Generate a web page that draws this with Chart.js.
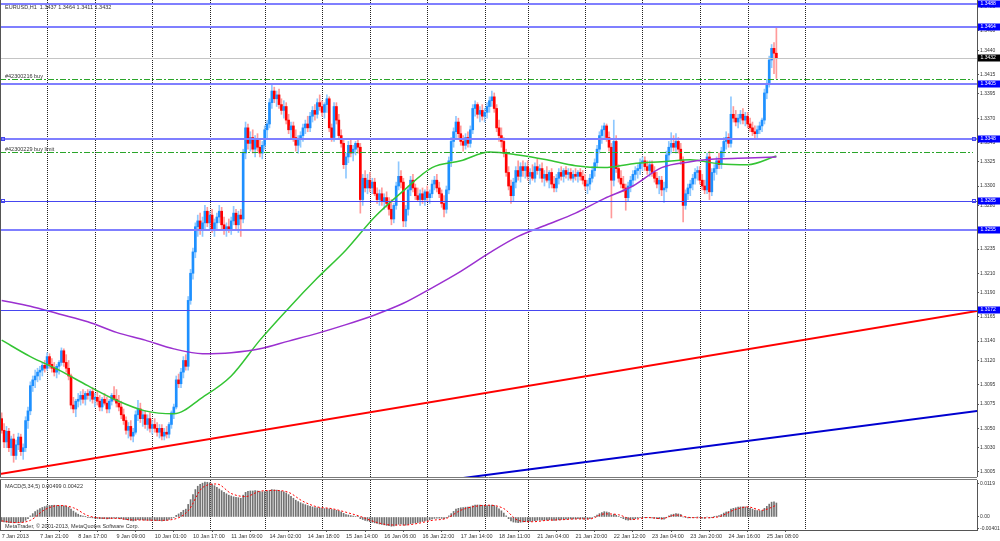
<!DOCTYPE html>
<html>
<head>
<meta charset="utf-8">
<title>EURUSD,H1</title>
<script src="https://cdn.jsdelivr.net/npm/chart.js@4.4.1/dist/chart.umd.min.js"></script>
<style>
  html, body { margin: 0; padding: 0; background: #fff; }
  #wrap { position: relative; width: 1000px; height: 541px; overflow: hidden; background: #fff; }
  canvas { position: absolute; left: 0; }
  #main { top: 0; }
  #macd { top: 477px; }
</style>
</head>
<body>
<div id="wrap">
  <canvas id="main" width="1000" height="477"></canvas>
  <canvas id="macd" width="1000" height="64"></canvas>
</div>
<script>
// EURUSD H1, bar 0 = 7 Jan 2013 05:00, last bar = 25 Jan 12:00
const symbol = 'EURUSD,H1';

const opens = [
  1.3060,1.3048,1.3036,1.3047,1.3030,1.3039,1.3022,1.3033,1.3041,1.3026,
  1.3030,1.3058,1.3068,1.3094,1.3100,1.3104,1.3108,1.3110,1.3115,1.3112,
  1.3124,1.3116,1.3112,1.3108,1.3114,1.3118,1.3130,1.3118,1.3112,1.3104,
  1.3074,1.3070,1.3078,1.3080,1.3084,1.3080,1.3086,1.3084,1.3088,1.3080,
  1.3082,1.3078,1.3072,1.3080,1.3076,1.3070,1.3078,1.3084,1.3080,1.3076,
  1.3072,1.3064,1.3058,1.3048,1.3052,1.3042,1.3046,1.3064,1.3070,1.3060,
  1.3064,1.3054,1.3060,1.3050,1.3054,1.3050,1.3046,1.3050,1.3042,1.3046,
  1.3044,1.3054,1.3066,1.3072,1.3100,1.3096,1.3108,1.3120,1.3114,1.3182,
  1.3210,1.3232,1.3258,1.3264,1.3254,1.3262,1.3274,1.3262,1.3270,1.3256,
  1.3262,1.3268,1.3274,1.3260,1.3254,1.3258,1.3256,1.3264,1.3272,1.3260,
  1.3270,1.3266,1.3334,1.3360,1.3344,1.3350,1.3338,1.3348,1.3340,1.3334,
  1.3342,1.3358,1.3364,1.3386,1.3398,1.3390,1.3394,1.3384,1.3378,1.3382,
  1.3368,1.3358,1.3362,1.3350,1.3342,1.3348,1.3352,1.3360,1.3364,1.3360,
  1.3372,1.3378,1.3374,1.3386,1.3382,1.3376,1.3384,1.3390,1.3360,1.3350,
  1.3382,1.3368,1.3352,1.3344,1.3322,1.3330,1.3342,1.3334,1.3338,1.3344,
  1.3340,1.3286,1.3308,1.3298,1.3306,1.3298,1.3304,1.3292,1.3286,1.3292,
  1.3284,1.3288,1.3282,1.3276,1.3266,1.3280,1.3300,1.3310,1.3304,1.3264,
  1.3276,1.3296,1.3306,1.3298,1.3290,1.3286,1.3292,1.3286,1.3294,1.3288,
  1.3292,1.3302,1.3306,1.3298,1.3292,1.3282,1.3276,1.3296,1.3326,1.3346,
  1.3356,1.3366,1.3354,1.3346,1.3342,1.3350,1.3344,1.3358,1.3380,1.3384,
  1.3374,1.3378,1.3372,1.3376,1.3382,1.3388,1.3392,1.3380,1.3360,1.3352,
  1.3346,1.3334,1.3314,1.3300,1.3290,1.3304,1.3316,1.3310,1.3320,1.3316,
  1.3320,1.3310,1.3314,1.3308,1.3320,1.3316,1.3318,1.3308,1.3312,1.3306,
  1.3314,1.3302,1.3298,1.3308,1.3314,1.3310,1.3316,1.3312,1.3314,1.3308,
  1.3312,1.3310,1.3314,1.3310,1.3306,1.3300,1.3302,1.3308,1.3316,1.3324,
  1.3338,1.3352,1.3358,1.3362,1.3350,1.3340,1.3306,1.3346,1.3318,1.3308,
  1.3302,1.3298,1.3288,1.3300,1.3306,1.3312,1.3316,1.3318,1.3324,1.3326,
  1.3320,1.3316,1.3322,1.3314,1.3308,1.3302,1.3306,1.3296,1.3298,1.3332,
  1.3340,1.3344,1.3340,1.3346,1.3338,1.3326,1.3280,1.3292,1.3298,1.3302,
  1.3308,1.3314,1.3316,1.3306,1.3300,1.3296,1.3330,1.3294,1.3314,1.3318,
  1.3326,1.3322,1.3336,1.3346,1.3350,1.3344,1.3374,1.3370,1.3366,1.3370,
  1.3374,1.3368,1.3372,1.3364,1.3360,1.3356,1.3354,1.3358,1.3362,1.3368,
  1.3396,1.3406,1.3430,1.3442,1.3437
];
const highs = [
  1.3066,1.3055,1.3052,1.3050,1.3042,1.3044,1.3038,1.3045,1.3044,1.3034,
  1.3062,1.3072,1.3098,1.3104,1.3110,1.3112,1.3114,1.3118,1.3120,1.3128,
  1.3127,1.3122,1.3118,1.3116,1.3120,1.3133,1.3132,1.3126,1.3120,1.3106,
  1.3082,1.3080,1.3086,1.3088,1.3090,1.3088,1.3090,1.3090,1.3092,1.3086,
  1.3088,1.3084,1.3082,1.3086,1.3082,1.3080,1.3086,1.3093,1.3090,1.3084,
  1.3078,1.3070,1.3062,1.3056,1.3058,1.3050,1.3068,1.3079,1.3076,1.3068,
  1.3068,1.3064,1.3066,1.3058,1.3060,1.3056,1.3054,1.3054,1.3050,1.3052,
  1.3056,1.3068,1.3075,1.3104,1.3106,1.3112,1.3124,1.3126,1.3186,1.3214,
  1.3236,1.3262,1.3270,1.3272,1.3268,1.3280,1.3278,1.3274,1.3276,1.3266,
  1.3272,1.3280,1.3278,1.3268,1.3262,1.3266,1.3268,1.3279,1.3276,1.3274,
  1.3276,1.3338,1.3366,1.3364,1.3356,1.3358,1.3352,1.3354,1.3348,1.3346,
  1.3362,1.3368,1.3390,1.3404,1.3402,1.3398,1.3400,1.3390,1.3388,1.3386,
  1.3374,1.3366,1.3366,1.3358,1.3352,1.3356,1.3364,1.3368,1.3372,1.3376,
  1.3382,1.3384,1.3390,1.3394,1.3388,1.3386,1.3394,1.3392,1.3364,1.3386,
  1.3386,1.3374,1.3358,1.3348,1.3334,1.3346,1.3348,1.3342,1.3346,1.3348,
  1.3344,1.3312,1.3316,1.3312,1.3314,1.3308,1.3308,1.3298,1.3296,1.3298,
  1.3292,1.3294,1.3288,1.3286,1.3282,1.3304,1.3325,1.3316,1.3308,1.3280,
  1.3300,1.3310,1.3312,1.3302,1.3298,1.3296,1.3298,1.3296,1.3300,1.3296,
  1.3306,1.3310,1.3312,1.3304,1.3296,1.3290,1.3300,1.3330,1.3350,1.3360,
  1.3372,1.3370,1.3362,1.3352,1.3354,1.3356,1.3362,1.3384,1.3388,1.3386,
  1.3382,1.3384,1.3380,1.3386,1.3392,1.3398,1.3396,1.3384,1.3368,1.3360,
  1.3350,1.3338,1.3320,1.3306,1.3308,1.3320,1.3326,1.3324,1.3326,1.3324,
  1.3326,1.3318,1.3322,1.3324,1.3328,1.3322,1.3324,1.3316,1.3320,1.3316,
  1.3318,1.3310,1.3312,1.3318,1.3320,1.3318,1.3320,1.3318,1.3318,1.3316,
  1.3318,1.3316,1.3318,1.3316,1.3312,1.3306,1.3312,1.3320,1.3328,1.3342,
  1.3356,1.3362,1.3365,1.3364,1.3356,1.3344,1.3368,1.3352,1.3322,1.3316,
  1.3310,1.3302,1.3304,1.3310,1.3316,1.3320,1.3322,1.3328,1.3330,1.3330,
  1.3326,1.3326,1.3326,1.3320,1.3314,1.3310,1.3310,1.3304,1.3336,1.3346,
  1.3355,1.3352,1.3354,1.3350,1.3344,1.3330,1.3296,1.3302,1.3306,1.3312,
  1.3318,1.3320,1.3320,1.3312,1.3306,1.3334,1.3336,1.3318,1.3322,1.3330,
  1.3334,1.3340,1.3350,1.3356,1.3354,1.3392,1.3382,1.3378,1.3374,1.3378,
  1.3380,1.3376,1.3376,1.3370,1.3366,1.3362,1.3362,1.3366,1.3370,1.3400,
  1.3410,1.3434,1.3446,1.3448,1.3464
];
const lows = [
  1.3045,1.3030,1.3030,1.3026,1.3022,1.3015,1.3018,1.3028,1.3022,1.3018,
  1.3026,1.3050,1.3064,1.3088,1.3092,1.3098,1.3100,1.3104,1.3108,1.3110,
  1.3112,1.3108,1.3104,1.3102,1.3106,1.3115,1.3114,1.3108,1.3100,1.3070,
  1.3066,1.3062,1.3072,1.3074,1.3076,1.3074,1.3080,1.3078,1.3076,1.3072,
  1.3074,1.3068,1.3068,1.3074,1.3066,1.3066,1.3074,1.3078,1.3072,1.3068,
  1.3060,1.3054,1.3044,1.3040,1.3038,1.3036,1.3044,1.3058,1.3056,1.3052,
  1.3050,1.3048,1.3046,1.3044,1.3046,1.3042,1.3040,1.3038,1.3038,1.3040,
  1.3040,1.3050,1.3060,1.3070,1.3092,1.3092,1.3102,1.3110,1.3110,1.3178,
  1.3204,1.3226,1.3248,1.3250,1.3248,1.3256,1.3258,1.3256,1.3252,1.3248,
  1.3256,1.3262,1.3256,1.3250,1.3248,1.3252,1.3250,1.3260,1.3256,1.3252,
  1.3248,1.3262,1.3328,1.3338,1.3336,1.3334,1.3330,1.3336,1.3330,1.3328,
  1.3338,1.3350,1.3360,1.3380,1.3386,1.3382,1.3380,1.3374,1.3370,1.3364,
  1.3354,1.3350,1.3346,1.3336,1.3334,1.3340,1.3346,1.3354,1.3356,1.3356,
  1.3366,1.3368,1.3370,1.3378,1.3372,1.3370,1.3376,1.3356,1.3346,1.3346,
  1.3364,1.3350,1.3340,1.3318,1.3308,1.3324,1.3330,1.3326,1.3332,1.3334,
  1.3272,1.3280,1.3294,1.3292,1.3294,1.3292,1.3290,1.3282,1.3280,1.3280,
  1.3276,1.3278,1.3270,1.3260,1.3262,1.3276,1.3296,1.3298,1.3258,1.3258,
  1.3270,1.3290,1.3294,1.3286,1.3284,1.3280,1.3282,1.3280,1.3284,1.3282,
  1.3288,1.3296,1.3294,1.3288,1.3278,1.3268,1.3272,1.3292,1.3320,1.3340,
  1.3350,1.3350,1.3342,1.3336,1.3338,1.3340,1.3340,1.3354,1.3372,1.3370,
  1.3366,1.3368,1.3366,1.3370,1.3376,1.3382,1.3376,1.3356,1.3346,1.3340,
  1.3330,1.3310,1.3296,1.3282,1.3284,1.3298,1.3306,1.3304,1.3310,1.3308,
  1.3306,1.3302,1.3306,1.3304,1.3312,1.3308,1.3304,1.3300,1.3304,1.3298,
  1.3298,1.3294,1.3294,1.3302,1.3306,1.3304,1.3308,1.3306,1.3306,1.3304,
  1.3306,1.3304,1.3306,1.3302,1.3296,1.3292,1.3296,1.3304,1.3310,1.3320,
  1.3334,1.3344,1.3348,1.3346,1.3336,1.3267,1.3300,1.3314,1.3304,1.3298,
  1.3294,1.3275,1.3284,1.3294,1.3300,1.3306,1.3308,1.3312,1.3316,1.3316,
  1.3312,1.3310,1.3310,1.3304,1.3298,1.3292,1.3290,1.3283,1.3294,1.3326,
  1.3334,1.3336,1.3334,1.3334,1.3322,1.3263,1.3276,1.3286,1.3290,1.3296,
  1.3302,1.3306,1.3302,1.3296,1.3292,1.3292,1.3286,1.3290,1.3306,1.3312,
  1.3318,1.3318,1.3330,1.3338,1.3340,1.3340,1.3366,1.3362,1.3360,1.3364,
  1.3364,1.3362,1.3360,1.3356,1.3352,1.3350,1.3350,1.3354,1.3356,1.3364,
  1.3390,1.3402,1.3422,1.3416,1.3411
];
const closes = [
  1.3048,1.3036,1.3047,1.3030,1.3039,1.3022,1.3033,1.3041,1.3026,1.3030,
  1.3058,1.3068,1.3094,1.3100,1.3104,1.3108,1.3110,1.3115,1.3112,1.3124,
  1.3116,1.3112,1.3108,1.3114,1.3118,1.3130,1.3118,1.3112,1.3104,1.3074,
  1.3070,1.3078,1.3080,1.3084,1.3080,1.3086,1.3084,1.3088,1.3080,1.3082,
  1.3078,1.3072,1.3080,1.3076,1.3070,1.3078,1.3084,1.3080,1.3076,1.3072,
  1.3064,1.3058,1.3048,1.3052,1.3042,1.3046,1.3064,1.3070,1.3060,1.3064,
  1.3054,1.3060,1.3050,1.3054,1.3050,1.3046,1.3050,1.3042,1.3046,1.3044,
  1.3054,1.3066,1.3072,1.3100,1.3096,1.3108,1.3120,1.3114,1.3182,1.3210,
  1.3232,1.3258,1.3264,1.3254,1.3262,1.3274,1.3262,1.3270,1.3256,1.3262,
  1.3268,1.3274,1.3260,1.3254,1.3258,1.3256,1.3264,1.3272,1.3260,1.3270,
  1.3266,1.3334,1.3360,1.3344,1.3350,1.3338,1.3348,1.3340,1.3334,1.3342,
  1.3358,1.3364,1.3386,1.3398,1.3390,1.3394,1.3384,1.3378,1.3382,1.3368,
  1.3358,1.3362,1.3350,1.3342,1.3348,1.3352,1.3360,1.3364,1.3360,1.3372,
  1.3378,1.3374,1.3386,1.3382,1.3376,1.3384,1.3390,1.3360,1.3350,1.3382,
  1.3368,1.3352,1.3344,1.3322,1.3330,1.3342,1.3334,1.3338,1.3344,1.3340,
  1.3286,1.3308,1.3298,1.3306,1.3298,1.3304,1.3292,1.3286,1.3292,1.3284,
  1.3288,1.3282,1.3276,1.3266,1.3280,1.3300,1.3310,1.3304,1.3264,1.3276,
  1.3296,1.3306,1.3298,1.3290,1.3286,1.3292,1.3286,1.3294,1.3288,1.3292,
  1.3302,1.3306,1.3298,1.3292,1.3282,1.3276,1.3296,1.3326,1.3346,1.3356,
  1.3366,1.3354,1.3346,1.3342,1.3350,1.3344,1.3358,1.3380,1.3384,1.3374,
  1.3378,1.3372,1.3376,1.3382,1.3388,1.3392,1.3380,1.3360,1.3352,1.3346,
  1.3334,1.3314,1.3300,1.3290,1.3304,1.3316,1.3310,1.3320,1.3316,1.3320,
  1.3310,1.3314,1.3308,1.3320,1.3316,1.3318,1.3308,1.3312,1.3306,1.3314,
  1.3302,1.3298,1.3308,1.3314,1.3310,1.3316,1.3312,1.3314,1.3308,1.3312,
  1.3310,1.3314,1.3310,1.3306,1.3300,1.3302,1.3308,1.3316,1.3324,1.3338,
  1.3352,1.3358,1.3362,1.3350,1.3340,1.3306,1.3346,1.3318,1.3308,1.3302,
  1.3298,1.3288,1.3300,1.3306,1.3312,1.3316,1.3318,1.3324,1.3326,1.3320,
  1.3316,1.3322,1.3314,1.3308,1.3302,1.3306,1.3296,1.3298,1.3332,1.3340,
  1.3344,1.3340,1.3346,1.3338,1.3326,1.3280,1.3292,1.3298,1.3302,1.3308,
  1.3314,1.3316,1.3306,1.3300,1.3296,1.3330,1.3294,1.3314,1.3318,1.3326,
  1.3322,1.3336,1.3346,1.3350,1.3344,1.3374,1.3370,1.3366,1.3370,1.3374,
  1.3368,1.3372,1.3364,1.3360,1.3356,1.3354,1.3358,1.3362,1.3368,1.3396,
  1.3406,1.3430,1.3442,1.3437,1.3432
];

// moving averages, read every 12 bars
const maBars = [0,12,24,36,48,60,72,84,96,108,120,132,144,156,168,180,192,204,216,228,240,252,264,276,288,300,312,324];
const greenMA = [1.3141,1.3124,1.3110,1.3094,1.3079,1.3068,1.3065,1.3082,1.3104,1.3141,1.3174,1.3205,1.3234,1.3268,
                 1.3295,1.3319,1.3326,1.3335,1.3332,1.3327,1.3321,1.3319,1.3323,1.3325,1.3327,1.3323,1.3322,1.3331];
const purpleMA = [1.3182,1.3176,1.3168,1.3160,1.3149,1.3141,1.3132,1.3127,1.3128,1.3132,1.3140,1.3148,1.3157,1.3167,
                  1.3179,1.3195,1.3212,1.3231,1.3248,1.3260,1.3272,1.3287,1.3300,1.3319,1.3325,1.3328,1.3329,1.3330];

// trend lines (bar, price)
const redTrendBars = [-1, 408];
const redTrendPrices = [1.30028, 1.31710];
const blueTrendBars = [190, 408];
const blueTrendPrices = [1.29978, 1.30679];

// horizontal objects
const levelPrices = [1.3488, 1.3464, 1.3405, 1.3348, 1.3285, 1.3255, 1.3172];
const bidPrice = 1.3432;
const orderPrices = [1.3410, 1.3335];
const orderLabels = ['#42300216 buy', '#42300229 buy limit'];

// MACD(5,34,5)
const macdHist = [
  -0.0016,-0.0018,-0.0019,-0.0020,-0.0020,-0.0021,-0.0020,-0.0019,-0.0019,-0.0018,
  -0.0012,-0.0006,0.0004,0.0012,0.0019,0.0025,0.0030,0.0034,0.0037,0.0040,
  0.0041,0.0042,0.0042,0.0041,0.0040,0.0041,0.0040,0.0038,0.0035,0.0028,
  0.0021,0.0015,0.0010,0.0006,0.0003,0.0001,-0.0001,-0.0002,-0.0003,-0.0004,
  -0.0005,-0.0006,-0.0006,-0.0006,-0.0007,-0.0006,-0.0005,-0.0004,-0.0004,-0.0005,
  -0.0006,-0.0008,-0.0010,-0.0011,-0.0013,-0.0014,-0.0012,-0.0010,-0.0010,-0.0010,
  -0.0011,-0.0011,-0.0012,-0.0012,-0.0012,-0.0013,-0.0013,-0.0014,-0.0013,-0.0012,
  -0.0009,-0.0005,-0.0001,0.0006,0.0011,0.0017,0.0024,0.0028,0.0045,0.0062,
  0.0080,0.0098,0.0110,0.0117,0.0121,0.0125,0.0124,0.0122,0.0118,0.0112,
  0.0106,0.0100,0.0094,0.0088,0.0083,0.0078,0.0075,0.0072,0.0070,0.0069,
  0.0067,0.0078,0.0088,0.0092,0.0093,0.0093,0.0094,0.0093,0.0091,0.0090,
  0.0091,0.0092,0.0095,0.0098,0.0097,0.0096,0.0094,0.0092,0.0090,0.0086,
  0.0080,0.0074,0.0067,0.0060,0.0055,0.0051,0.0047,0.0044,0.0041,0.0038,
  0.0036,0.0034,0.0033,0.0032,0.0031,0.0030,0.0030,0.0029,0.0027,0.0026,
  0.0024,0.0021,0.0018,0.0013,0.0009,0.0007,0.0005,0.0003,0.0002,0.0001,
  -0.0006,-0.0009,-0.0012,-0.0014,-0.0017,-0.0019,-0.0021,-0.0023,-0.0025,-0.0027,
  -0.0028,-0.0030,-0.0031,-0.0033,-0.0032,-0.0029,-0.0026,-0.0025,-0.0029,-0.0029,
  -0.0027,-0.0024,-0.0022,-0.0021,-0.0020,-0.0018,-0.0016,-0.0014,-0.0012,-0.0010,
  -0.0007,-0.0005,-0.0004,-0.0004,-0.0005,-0.0006,-0.0003,0.0004,0.0012,0.0020,
  0.0028,0.0031,0.0033,0.0034,0.0035,0.0035,0.0036,0.0040,0.0043,0.0043,
  0.0043,0.0042,0.0041,0.0041,0.0042,0.0043,0.0041,0.0036,0.0029,0.0022,
  0.0014,0.0004,-0.0006,-0.0014,-0.0018,-0.0019,-0.0020,-0.0019,-0.0018,-0.0017,
  -0.0017,-0.0016,-0.0015,-0.0013,-0.0012,-0.0011,-0.0011,-0.0011,-0.0011,-0.0010,
  -0.0011,-0.0012,-0.0011,-0.0010,-0.0009,-0.0008,-0.0008,-0.0007,-0.0007,-0.0007,
  -0.0007,-0.0006,-0.0006,-0.0007,-0.0008,-0.0008,-0.0006,-0.0002,0.0002,0.0007,
  0.0012,0.0016,0.0019,0.0018,0.0016,0.0006,0.0010,0.0006,0.0002,-0.0002,
  -0.0006,-0.0010,-0.0011,-0.0010,-0.0008,-0.0006,-0.0004,-0.0002,-0.0001,-0.0001,
  -0.0002,-0.0002,-0.0003,-0.0004,-0.0006,-0.0006,-0.0008,-0.0008,-0.0001,0.0004,
  0.0008,0.0010,0.0012,0.0011,0.0009,0.0000,-0.0002,-0.0003,-0.0003,-0.0002,
  -0.0001,0.0000,-0.0002,-0.0004,-0.0005,0.0000,-0.0003,-0.0001,0.0001,0.0003,
  0.0005,0.0009,0.0014,0.0018,0.0020,0.0028,0.0031,0.0033,0.0035,0.0036,
  0.0036,0.0036,0.0034,0.0031,0.0028,0.0025,0.0023,0.0022,0.0023,0.0031,
  0.0038,0.0046,0.0053,0.0054,0.0050
];
const signalBars = [0,6,12,18,24,30,36,42,48,54,60,66,72,78,84,90,96,102,108,114,120,126,132,138,144,150,156,162,
                    168,174,180,186,192,198,204,210,216,222,228,234,240,246,252,258,264,270,276,282,288,294,300,306,312,318,324];
const macdSignal = [-0.0014,-0.0020,-0.0012,0.0026,0.0041,0.0033,0.0005,-0.0004,-0.0005,-0.0010,
                    -0.0011,-0.0012,-0.0008,0.0022,0.0105,0.0118,0.0084,0.0073,0.0092,0.0095,
                    0.0088,0.0056,0.0036,0.0030,0.0017,0.0002,-0.0017,-0.0028,-0.0029,-0.0023,
                    -0.0012,-0.0005,0.0024,0.0038,0.0042,0.0030,-0.0012,-0.0017,-0.0012,-0.0010,
                    -0.0007,-0.0007,0.0011,0.0008,-0.0009,-0.0002,-0.0006,0.0007,-0.0002,-0.0003,
                    0.0001,0.0024,0.0036,0.0024,0.0042];
const macdNow = [0.00499, 0.00422];

// axes
const priceTicks = [1.3485,1.3460,1.3440,1.3415,1.3395,1.3370,1.3345,1.3325,1.3300,1.3280,1.3255,
                    1.3235,1.3210,1.3190,1.3165,1.3140,1.3120,1.3095,1.3075,1.3050,1.3030,1.3005];
const macdTicks = [0.0119, 0, -0.00401];
const macdTickLabels = ['0.0119', '0.00', '-0.00401'];
const labelBars = [0,16,32,48,64,80,96,112,128,144,160,176,192,208,224,240,256,272,288,304,320];
const xLabels = ['7 Jan 2013','7 Jan 21:00','8 Jan 17:00','9 Jan 09:00','10 Jan 01:00','10 Jan 17:00',
                 '11 Jan 09:00','14 Jan 02:00','14 Jan 18:00','15 Jan 14:00','16 Jan 06:00','16 Jan 22:00',
                 '17 Jan 14:00','18 Jan 11:00','21 Jan 04:00','21 Jan 20:00','22 Jan 12:00','23 Jan 04:00',
                 '23 Jan 20:00','24 Jan 16:00','25 Jan 08:00'];
const dayBars = [19,39,63,87,110,134,154,178,202,220,244,268,292,312,336];

// ---- styling ----
const FONT = 'Liberation Sans';
const BULL = '#1e90ff', BULL_WICK = '#8ec8ff', BEAR = '#ff0000', BEAR_WICK = '#ff9a9a';
const X_MIN = -0.7, X_MAX = 407.9;
const Y_MIN = 1.29998, Y_MAX = 1.34919;
const M_MIN = -0.00465, M_MAX = 0.01322;
const AXIS = '#555';
const TXT = '#333';
const thinLevels = [1.3285, 1.3172];
const anchoredLevels = [1.3348, 1.3285];

Chart.defaults.font.family = FONT;
Chart.defaults.color = TXT;
Chart.defaults.animation = false;

function dayLines(chart) {
  const { ctx, chartArea: a, scales: { x } } = chart;
  ctx.save();
  ctx.strokeStyle = '#222';
  ctx.lineWidth = 1;
  ctx.setLineDash([1, 1]);
  dayBars.forEach(b => {
    const px = Math.round(x.getPixelForValue(b)) + 0.5;
    ctx.beginPath();
    ctx.moveTo(px, a.top);
    ctx.lineTo(px, a.bottom);
    ctx.stroke();
  });
  ctx.restore();
}

function leftBorder(chart) {
  const { ctx, chartArea: a } = chart;
  ctx.save();
  ctx.strokeStyle = AXIS;
  ctx.lineWidth = 1;
  ctx.beginPath();
  ctx.moveTo(0.5, a.top);
  ctx.lineTo(0.5, a.bottom);
  ctx.stroke();
  ctx.restore();
}

function tag(ctx, left, py, text, bg) {
  ctx.fillStyle = bg;
  ctx.fillRect(left + 1, Math.round(py) - 3.5, 22, 7);
  ctx.fillStyle = '#fff';
  ctx.font = '5px ' + FONT;
  ctx.textBaseline = 'middle';
  ctx.textAlign = 'left';
  ctx.fillText(text, left + 3.5, Math.round(py));
}

const mainOverlay = {
  id: 'mainOverlay',
  beforeDatasetsDraw(chart) {
    dayLines(chart);
  },
  afterDatasetsDraw(chart) {
    const { ctx, chartArea: a, scales: { y } } = chart;
    ctx.save();
    // bid line
    let py = Math.round(y.getPixelForValue(bidPrice)) + 0.5;
    ctx.strokeStyle = '#c4c4c4';
    ctx.lineWidth = 1;
    ctx.beginPath(); ctx.moveTo(a.left, py); ctx.lineTo(a.right, py); ctx.stroke();
    // pending / open orders
    ctx.strokeStyle = '#2aa52a';
    ctx.setLineDash([6, 2, 2, 2]);
    orderPrices.forEach((p, k) => {
      py = Math.round(y.getPixelForValue(p)) + 0.5;
      ctx.beginPath(); ctx.moveTo(a.left, py); ctx.lineTo(a.right - 4, py); ctx.stroke();
      ctx.fillStyle = TXT;
      ctx.font = '5.5px ' + FONT;
      ctx.textBaseline = 'alphabetic';
      ctx.fillText(orderLabels[k], 5, py - 2);
    });
    ctx.setLineDash([]);
    // horizontal levels
    levelPrices.forEach(p => {
      const thin = thinLevels.includes(p);
      py = y.getPixelForValue(p);
      ctx.strokeStyle = thin ? '#4646f0' : '#7f7fff';
      ctx.lineWidth = thin ? 1 : 2;
      const yy = thin ? Math.round(py) + 0.5 : Math.round(py);
      ctx.beginPath(); ctx.moveTo(a.left, yy); ctx.lineTo(a.right, yy); ctx.stroke();
      if (anchoredLevels.includes(p)) {
        ctx.lineWidth = 1;
        ctx.strokeStyle = '#4646f0';
        ctx.strokeRect(1.5, Math.round(py) - 1.5, 3, 3);
        ctx.strokeRect(a.right - 4.5, Math.round(py) - 1.5, 3, 3);
      }
    });
    // header
    ctx.fillStyle = TXT;
    ctx.font = '5.5px ' + FONT;
    ctx.textBaseline = 'alphabetic';
    const last = closes.length - 1;
    ctx.fillText(symbol + '  ' + [opens[last], highs[last], lows[last], closes[last]].map(v => v.toFixed(4)).join(' '), 5, 8.5);
    ctx.restore();
    leftBorder(chart);
  },
  afterDraw(chart) {
    const { ctx, chartArea: a, scales: { y } } = chart;
    ctx.save();
    levelPrices.forEach(p => tag(ctx, a.right, y.getPixelForValue(p), p.toFixed(4), '#0000ff'));
    tag(ctx, a.right, y.getPixelForValue(bidPrice), bidPrice.toFixed(4), '#000');
    ctx.restore();
  }
};

const macdOverlay = {
  id: 'macdOverlay',
  beforeDatasetsDraw(chart) {
    dayLines(chart);
  },
  afterDraw(chart) {
    const { ctx, chartArea: a } = chart;
    ctx.save();
    ctx.strokeStyle = '#7a7a7a';
    ctx.lineWidth = 1;
    [0.5, 2.5].forEach(yy => {
      ctx.beginPath(); ctx.moveTo(0, yy); ctx.lineTo(a.right, yy); ctx.stroke();
    });
    ctx.fillStyle = TXT;
    ctx.font = '5.5px ' + FONT;
    ctx.textBaseline = 'alphabetic';
    ctx.fillText('MACD(5,34,5) ' + macdNow.map(v => v.toFixed(5)).join(' '), 5, 10.5);
    ctx.fillText('MetaTrader, \u00a9 2001-2013, MetaQuotes Software Corp.', 5, 51);
    ctx.restore();
    leftBorder(chart);
  }
};

const bodyColors = closes.map((c, i) => c >= opens[i] ? BULL : BEAR);
const wickColors = closes.map((c, i) => c >= opens[i] ? BULL_WICK : BEAR_WICK);

new Chart(document.getElementById('main'), {
  type: 'bar',
  data: {
    datasets: [
      {
        label: 'wicks',
        data: highs.map((h, i) => ({ x: i, y: [lows[i], h] })),
        backgroundColor: wickColors,
        barThickness: 1,
        grouped: false,
        order: 6
      },
      {
        label: 'bodies',
        data: opens.map((o, i) => ({ x: i, y: [o, closes[i]] })),
        backgroundColor: bodyColors,
        barThickness: 2,
        minBarLength: 1,
        grouped: false,
        order: 5
      },
      {
        type: 'line', label: 'MA fast',
        data: maBars.map((b, k) => ({ x: b, y: greenMA[k] })),
        borderColor: '#33c433', borderWidth: 1.5, pointRadius: 0, cubicInterpolationMode: 'monotone', order: 4
      },
      {
        type: 'line', label: 'MA slow',
        data: maBars.map((b, k) => ({ x: b, y: purpleMA[k] })),
        borderColor: '#9b30d0', borderWidth: 1.5, pointRadius: 0, cubicInterpolationMode: 'monotone', order: 3
      },
      {
        type: 'line', label: 'trend red',
        data: redTrendBars.map((b, k) => ({ x: b, y: redTrendPrices[k] })),
        borderColor: '#ff0000', borderWidth: 2, pointRadius: 0, order: 2
      },
      {
        type: 'line', label: 'trend blue',
        data: blueTrendBars.map((b, k) => ({ x: b, y: blueTrendPrices[k] })),
        borderColor: '#0000d0', borderWidth: 2, pointRadius: 0, order: 1
      }
    ]
  },
  options: {
    responsive: false,
    maintainAspectRatio: false,
    devicePixelRatio: 1,
    events: [],
    layout: { padding: 0 },
    plugins: { legend: { display: false }, tooltip: { enabled: false } },
    scales: {
      x: { type: 'linear', min: X_MIN, max: X_MAX, bounds: 'data', offset: false, display: false },
      y: {
        position: 'right', min: Y_MIN, max: Y_MAX, bounds: 'data',
        afterBuildTicks: s => { s.ticks = priceTicks.map(v => ({ value: v })); },
        afterFit: s => { s.width = 23; s.paddingTop = 0; s.paddingBottom = 0; },
        grid: { drawOnChartArea: false, tickLength: 2, color: AXIS },
        border: { display: true, color: AXIS },
        ticks: { padding: 1, color: TXT, font: { size: 5 }, autoSkip: false, callback: v => v.toFixed(4) }
      }
    }
  },
  plugins: [mainOverlay]
});

new Chart(document.getElementById('macd'), {
  type: 'bar',
  data: {
    datasets: [
      {
        label: 'MACD',
        data: macdHist.map((v, i) => ({ x: i, y: v })),
        backgroundColor: '#727272',
        barThickness: 1,
        grouped: false,
        order: 2
      },
      {
        type: 'line', label: 'Signal',
        data: signalBars.map((b, k) => ({ x: b, y: macdSignal[k] })),
        borderColor: '#ff0000', borderWidth: 1, borderDash: [2, 2], pointRadius: 0,
        cubicInterpolationMode: 'monotone', order: 1
      }
    ]
  },
  options: {
    responsive: false,
    maintainAspectRatio: false,
    devicePixelRatio: 1,
    events: [],
    layout: { padding: { top: 3, left: 0, right: 0, bottom: 0 } },
    plugins: { legend: { display: false }, tooltip: { enabled: false } },
    scales: {
      x: {
        type: 'linear', min: X_MIN, max: X_MAX, bounds: 'data', offset: false,
        afterBuildTicks: s => { s.ticks = labelBars.map(v => ({ value: v })); },
        afterFit: s => { s.height = 11; s.paddingLeft = 0; s.paddingRight = 0; },
        grid: { drawOnChartArea: false, tickLength: 2, color: AXIS },
        border: { display: true, color: AXIS },
        ticks: {
          autoSkip: false, maxRotation: 0, minRotation: 0, align: 'start', padding: 1,
          color: TXT, font: { size: 5.5 }, callback: (v, i) => xLabels[i]
        }
      },
      y: {
        position: 'right', min: M_MIN, max: M_MAX, bounds: 'data',
        afterBuildTicks: s => { s.ticks = macdTicks.map(v => ({ value: v })); },
        afterFit: s => { s.width = 23; s.paddingTop = 0; s.paddingBottom = 0; },
        grid: { drawOnChartArea: false, tickLength: 2, color: AXIS },
        border: { display: true, color: AXIS },
        ticks: { padding: 1, color: TXT, font: { size: 5 }, autoSkip: false, callback: (v, i) => macdTickLabels[i] }
      }
    }
  },
  plugins: [macdOverlay]
});
</script>
</body>
</html>
